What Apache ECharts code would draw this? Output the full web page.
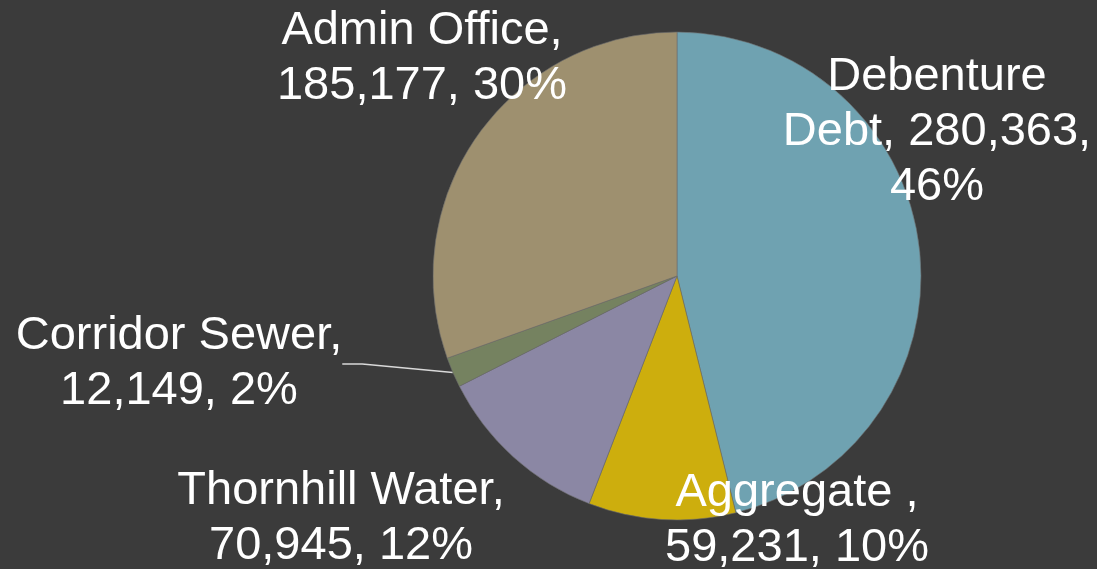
<!DOCTYPE html>
<html>
<head>
<meta charset="utf-8">
<script src="https://cdn.jsdelivr.net/npm/echarts@6/dist/echarts.min.js"></script>
<style>
html,body{margin:0;padding:0;background:#3b3b3b;}
#chart{width:1097px;height:569px;}
</style>
</head>
<body>
<div id="chart"></div>
<script>
// Data
const categories = ["Debenture\nDebt", "Aggregate ", "Thornhill Water", "Corridor Sewer", "Admin Office"];
const values = [280363, 59231, 70945, 12149, 185177];
// Styles
const colors = ["#6fa2b1", "#cdae0d", "#8b87a4", "#758260", "#9e906f"];
const separators = [[", ", ",\n"], [",\n", ", "], [",\n", ", "], [",\n", ", "], [",\n", ", "]];
const labelCenters = [[937, 132], [797, 521], [341, 519], [179, 364], [422, 59]];
const showLine = [false, false, false, true, false];

const fmt = v => v.toLocaleString('en-US');

const chart = echarts.init(document.getElementById('chart'), null, {renderer: 'canvas'});
chart.setOption({
  backgroundColor: '#3b3b3b',
  animation: false,
  series: [{
    type: 'pie',
    center: [677, 276],
    radius: 244,
    startAngle: 90,
    clockwise: true,
    avoidLabelOverlap: false,
    itemStyle: {borderColor: '#6b6b6b', borderWidth: 0.6},
    label: {
      show: true,
      position: 'outside',
      color: '#ffffff',
      fontFamily: 'Liberation Sans, Arial, sans-serif',
      fontSize: 47,
      lineHeight: 55,
      align: 'center',
      formatter: p => p.name + separators[p.dataIndex][0] + fmt(p.value) + separators[p.dataIndex][1] + Math.round(p.percent) + '%'
    },
    labelLine: {show: false},
    labelLayout: params => ({
      x: labelCenters[params.dataIndex][0],
      y: labelCenters[params.dataIndex][1],
      align: 'center',
      verticalAlign: 'middle'
    }),
    data: categories.map((c, i) => ({
      name: c,
      value: values[i],
      itemStyle: {color: colors[i]},
      labelLine: {show: showLine[i], length: 20, length2: 20, lineStyle: {color: '#d9d9d9', width: 1.5}}
    }))
  }]
});
</script>
</body>
</html>
